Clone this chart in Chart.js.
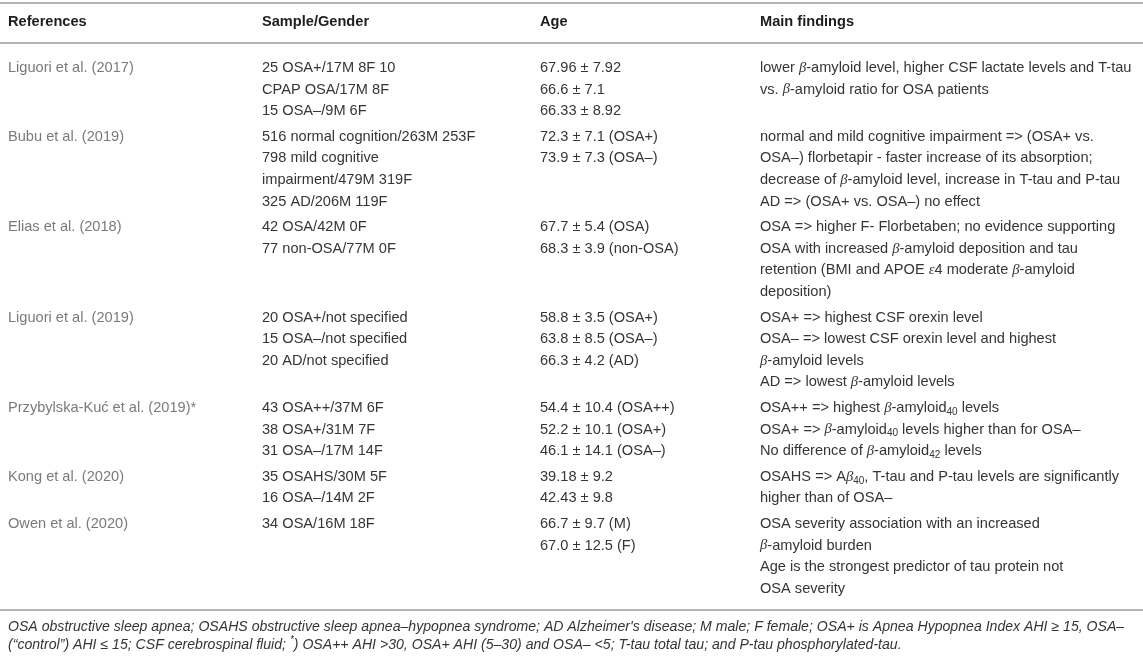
<!DOCTYPE html>
<html>
<head>
<meta charset="utf-8">
<title>OSA and amyloid/tau studies</title>
<script src="https://cdn.jsdelivr.net/npm/chart.js"></script>
<style>
    html, body { margin: 0; padding: 0; background: #fff; }
    .wrap { width: 1143px; height: 656px; position: relative; }
</style>
</head>
<body>
<div class="wrap"><canvas id="tbl"></canvas></div>
<script>
// table content ( _40 = subscript, ^* = superscript, β/ε drawn as math italic )
const headers = ['References', 'Sample/Gender', 'Age', 'Main findings'];

const references = [
    'Liguori et al. (2017)',
    'Bubu et al. (2019)',
    'Elias et al. (2018)',
    'Liguori et al. (2019)',
    'Przybylska-Kuć et al. (2019)*',
    'Kong et al. (2020)',
    'Owen et al. (2020)'
];

const samples = [
    ['25 OSA+/17M 8F 10', 'CPAP OSA/17M 8F', '15 OSA–/9M 6F'],
    ['516 normal cognition/263M 253F', '798 mild cognitive', 'impairment/479M 319F', '325 AD/206M 119F'],
    ['42 OSA/42M 0F', '77 non-OSA/77M 0F'],
    ['20 OSA+/not specified', '15 OSA–/not specified', '20 AD/not specified'],
    ['43 OSA++/37M 6F', '38 OSA+/31M 7F', '31 OSA–/17M 14F'],
    ['35 OSAHS/30M 5F', '16 OSA–/14M 2F'],
    ['34 OSA/16M 18F']
];

const ages = [
    ['67.96 ± 7.92', '66.6 ± 7.1', '66.33 ± 8.92'],
    ['72.3 ± 7.1 (OSA+)', '73.9 ± 7.3 (OSA–)'],
    ['67.7 ± 5.4 (OSA)', '68.3 ± 3.9 (non-OSA)'],
    ['58.8 ± 3.5 (OSA+)', '63.8 ± 8.5 (OSA–)', '66.3 ± 4.2 (AD)'],
    ['54.4 ± 10.4 (OSA++)', '52.2 ± 10.1 (OSA+)', '46.1 ± 14.1 (OSA–)'],
    ['39.18 ± 9.2', '42.43 ± 9.8'],
    ['66.7 ± 9.7 (M)', '67.0 ± 12.5 (F)']
];

const findings = [
    ['lower β-amyloid level, higher CSF lactate levels and T-tau',
     'vs. β-amyloid ratio for OSA patients'],
    ['normal and mild cognitive impairment => (OSA+ vs.',
     'OSA–) florbetapir - faster increase of its absorption;',
     'decrease of β-amyloid level, increase in T-tau and P-tau',
     'AD => (OSA+ vs. OSA–) no effect'],
    ['OSA => higher F- Florbetaben; no evidence supporting',
     'OSA with increased β-amyloid deposition and tau',
     'retention (BMI and APOE ε4 moderate β-amyloid',
     'deposition)'],
    ['OSA+ => highest CSF orexin level',
     'OSA– => lowest CSF orexin level and highest',
     'β-amyloid levels',
     'AD => lowest β-amyloid levels'],
    ['OSA++ => highest β-amyloid_40 levels',
     'OSA+ => β-amyloid_40 levels higher than for OSA–',
     'No difference of β-amyloid_42 levels'],
    ['OSAHS => Aβ_40, T-tau and P-tau levels are significantly',
     'higher than of OSA–'],
    ['OSA severity association with an increased',
     'β-amyloid burden',
     'Age is the strongest predictor of tau protein not',
     'OSA severity']
];

const footnotes = [
    'OSA obstructive sleep apnea; OSAHS obstructive sleep apnea–hypopnea syndrome; AD Alzheimer\'s disease; M male; F female; OSA+ is Apnea Hypopnea Index AHI ≥ 15, OSA–',
    '(“control”) AHI ≤ 15; CSF cerebrospinal fluid; ^*) OSA++ AHI >30, OSA+ AHI (5–30) and OSA– <5; T-tau total tau; and P-tau phosphorylated-tau.'
];

// layout
const W = 1143, H = 656;
const COL_X = [8, 262, 540, 760];
const TOP_RULE = 3, HEAD_Y = 22, HEAD_RULE = 43;
const FIRST_Y = 68, LINE_H = 21.6, ROW_GAP = 4;
const FONT = '"Liberation Sans", Arial, sans-serif';
const GREEK = '"Liberation Serif", "DejaVu Serif", serif';
const FS = 14.6;

// line positions of every table row
const rowY = [];
let y = FIRST_Y;
references.forEach((r, i) => {
    rowY.push(y);
    const n = Math.max(1, samples[i].length, ages[i].length, findings[i].length);
    y += n * LINE_H + ROW_GAP;
});
const lastLine = y - LINE_H - ROW_GAP;
const BOTTOM_RULE = lastLine + 21;
const FOOT_Y = [BOTTOM_RULE + 17, BOTTOM_RULE + 35];

function cellPoints(col, rows) {
    const pts = [];
    rows.forEach((lines, r) => {
        [].concat(lines).forEach((t, k) => pts.push({ x: COL_X[col], y: rowY[r] + k * LINE_H, t: t }));
    });
    return pts;
}

const textSets = [
    { label: 'head', data: headers.map((h, c) => ({ x: COL_X[c], y: HEAD_Y, t: h })), look: { weight: 'bold', color: '#1d1d1d', size: FS } },
    { label: 'refs', data: cellPoints(0, references), look: { weight: 'normal', color: '#7a7a7a', size: FS } },
    { label: 'sample', data: cellPoints(1, samples), look: { weight: 'normal', color: '#353535', size: FS } },
    { label: 'age', data: cellPoints(2, ages), look: { weight: 'normal', color: '#353535', size: FS } },
    { label: 'findings', data: cellPoints(3, findings), look: { weight: 'normal', color: '#353535', size: FS } },
    { label: 'notes', data: footnotes.map((f, k) => ({ x: COL_X[0], y: FOOT_Y[k], t: f })), look: { weight: 'normal', italic: true, color: '#353535', size: 14.1 } }
];

function richText(ctx, x, y, str, look) {
    const style = (look.italic ? 'italic ' : '') + look.weight + ' ';
    const parts = str.split(/(_\d+|\^\*)/);
    parts.forEach(p => {
        if (!p) return;
        if (p[0] === '_') {
            ctx.font = style + Math.round(look.size * 0.7) + 'px ' + FONT;
            ctx.fillText(p.slice(1), x, y + look.size * 0.28);
            x += ctx.measureText(p.slice(1)).width;
            return;
        }
        if (p[0] === '^') {
            ctx.font = style + Math.round(look.size * 0.7) + 'px ' + FONT;
            ctx.fillText(p.slice(1), x, y - look.size * 0.3);
            x += ctx.measureText(p.slice(1)).width;
            return;
        }
        p.split(/([βε])/).forEach(s => {
            if (!s) return;
            ctx.font = (/[βε]/.test(s) ? 'italic normal ' + look.size + 'px ' + GREEK : style + look.size + 'px ' + FONT);
            ctx.fillText(s, x, y);
            x += ctx.measureText(s).width;
        });
    });
}

const tablePlugin = {
    id: 'tableText',
    afterDatasetsDraw(chart) {
        const ctx = chart.ctx;
        const xs = chart.scales.x, ys = chart.scales.y;
        ctx.save();
        // horizontal rules
        ctx.strokeStyle = '#b5b5b5';
        ctx.lineWidth = 2;
        [TOP_RULE, HEAD_RULE, BOTTOM_RULE].forEach(v => {
            const py = Math.round(ys.getPixelForValue(v));
            ctx.beginPath();
            ctx.moveTo(xs.getPixelForValue(0), py);
            ctx.lineTo(xs.getPixelForValue(W), py);
            ctx.stroke();
        });
        ctx.textBaseline = 'middle';
        ctx.textAlign = 'left';
        chart.data.datasets.forEach((ds, i) => {
            const meta = chart.getDatasetMeta(i);
            ctx.fillStyle = ds.look.color;
            meta.data.forEach((el, k) => richText(ctx, el.x, el.y, ds.data[k].t, ds.look));
        });
        ctx.restore();
    }
};

new Chart(document.getElementById('tbl'), {
    type: 'scatter',
    data: { datasets: textSets.map(s => Object.assign({ pointRadius: 0, pointHoverRadius: 0 }, s)) },
    options: {
        responsive: true,
        maintainAspectRatio: false,
        animation: false,
        events: [],
        layout: { padding: 0 },
        plugins: { legend: { display: false }, tooltip: { enabled: false } },
        scales: {
            x: { type: 'linear', min: 0, max: W, display: false },
            y: { type: 'linear', min: 0, max: H, reverse: true, display: false }
        }
    },
    plugins: [tablePlugin]
});
</script>
</body>
</html>
